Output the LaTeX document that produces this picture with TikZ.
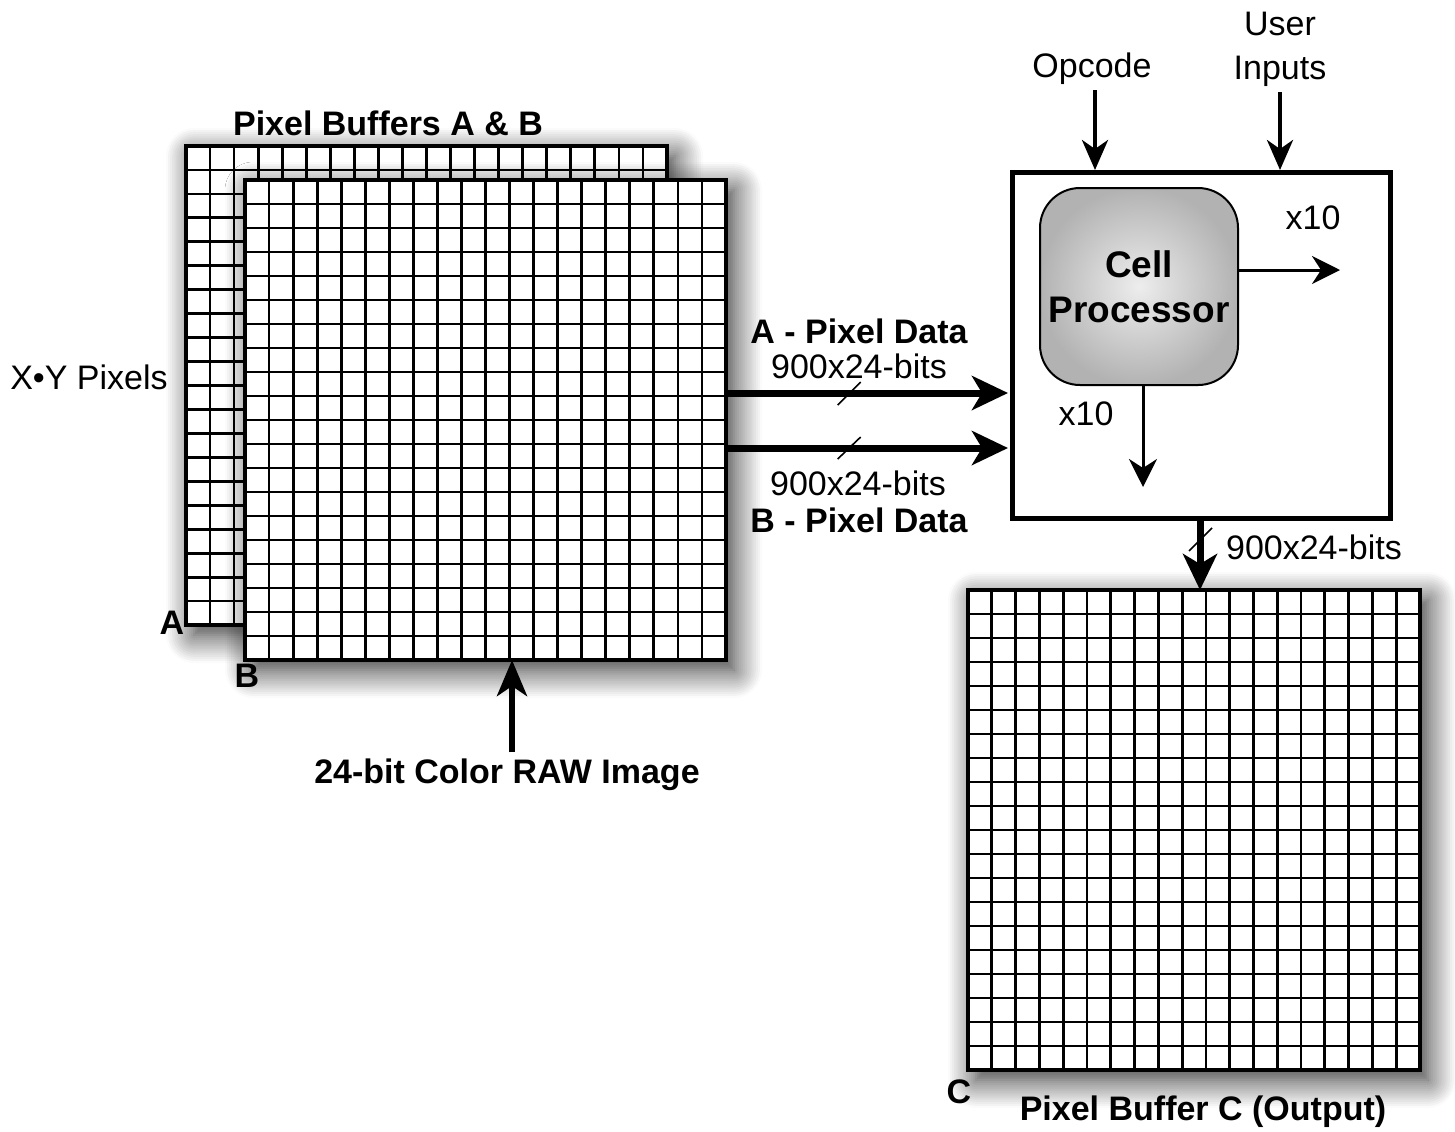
\documentclass[tikz,border=0pt]{standalone}
\usepackage{fontspec}
\setmainfont{Liberation Sans}
\usetikzlibrary{arrows.meta,calc,shadows.blur}

\tikzset{
  buffer/.style={draw, line width=1.6pt, fill=white, inner sep=0pt, outer sep=0pt, anchor=north west,
    blur shadow={shadow xshift=4pt, shadow yshift=-5pt, shadow blur radius=14pt, shadow blur steps=14, shadow opacity=85}},
  gridline/.style={line width=1.4pt},
  lbl/.style={font=\fontsize{17}{22}\selectfont, anchor=base, inner sep=0pt, outer sep=3pt},
  blbl/.style={lbl, font=\fontsize{17}{22}\selectfont\bfseries},
  busarrow/.style={line width=3.5pt, -{Stealth[length=18pt, width=17pt, inset=5pt]}},
  ctlarrow/.style={line width=2pt, -{Stealth[length=15pt, width=13pt, inset=4.5pt]}},
  cellarrow/.style={line width=1.5pt, -{Stealth[length=14pt, width=14pt, inset=4.5pt]}},
  rawarrow/.style={line width=3pt, -{Stealth[length=18pt, width=15pt, inset=5pt]}},
  slash/.style={line width=0.8pt}
}

% pixel grid inside a buffer node: #1 node, #2 columns, #3 rows
\newcommand{\pixelgrid}[3]{%
  \foreach \i in {1,...,#2}
    \draw[gridline] ($(#1.north west)!\i/#2!(#1.north east)$) -- ($(#1.south west)!\i/#2!(#1.south east)$);
  \foreach \j in {1,...,#3}
    \draw[gridline] ($(#1.north west)!\j/#3!(#1.south west)$) -- ($(#1.north east)!\j/#3!(#1.south east)$);
}

\begin{document}
\begin{tikzpicture}[x=0.5pt, y=-0.5pt]
  \useasboundingbox (0,0) rectangle (1455,1131);

  % Buffers
  \node[buffer, minimum width=240.5pt, minimum height=239.5pt] (bufA) at (186,146) {};
  \pixelgrid{bufA}{20}{20}
  \node[buffer, minimum width=240.5pt, minimum height=240pt] (bufB) at (245,180) {};
  \pixelgrid{bufB}{20}{20}
  \node[buffer, minimum width=226pt, minimum height=240pt] (bufC) at (968,590) {};
  \pixelgrid{bufC}{19}{20}

  % Processor
  \node[draw, line width=2.5pt, minimum width=189pt, minimum height=173pt, inner sep=0pt, anchor=north west] (procbox) at (1010,170) {};
  \node[draw, line width=1pt, rounded corners=20pt, minimum width=99pt, minimum height=98.5pt, inner sep=0pt,
    inner color=black!7, outer color=black!30, align=center,
    font=\fontsize{18.5}{22.5}\selectfont\bfseries] (cellproc) at (1139,286.5) {Cell\\Processor};

  % Labels
  \node[blbl] (titleAB) at (388,135) {Pixel Buffers A \& B};
  \node[lbl] (xy) at (89,389) {X•Y Pixels};
  \node[blbl] (labA) at (172,634) {A};
  \node[blbl] (labB) at (247,687) {B};
  \node[blbl] (labC) at (959,1103) {C};
  \node[lbl] (opcode) at (1092,77) {Opcode};
  \node[lbl, align=center, anchor=center] (user) at (1280,49) {User\\Inputs};
  \node[lbl] (x10r) at (1313,229) {x10};
  \node[lbl] (x10d) at (1086,425) {x10};
  \node[blbl] (adata) at (859,343) {A - Pixel Data};
  \node[lbl] (awidth) at (859,378) {900x24-bits};
  \node[lbl] (bwidth) at (858,495) {900x24-bits};
  \node[blbl] (bdata) at (859,532) {B - Pixel Data};
  \node[lbl] (cwidth) at (1314,559) {900x24-bits};
  \node[blbl] (raw) at (507,783) {24-bit Color RAW Image};
  \node[blbl] (titleC) at (1203,1120) {Pixel Buffer C (Output)};

  % Connectors
  \coordinate (aIn) at (1008,393);
  \coordinate (bIn) at (1008,448);
  \coordinate (outX) at (1200,0);
  \coordinate (rawX) at (512,0);
  \coordinate (cellOut) at (1340,270);
  \coordinate (cellDown) at (1143,487);

  \draw[busarrow] (aIn -| bufB.east) -- coordinate[pos=0.435] (aMid) (aIn);
  \draw[slash] ([shift={(-11,12)}]aMid) -- ([shift={(12,-11)}]aMid);
  \draw[busarrow] (bIn -| bufB.east) -- coordinate[pos=0.435] (bMid) (bIn);
  \draw[slash] ([shift={(-11,11)}]bMid) -- ([shift={(12,-11)}]bMid);

  \draw[busarrow] (procbox.south -| outX) -- coordinate[pos=0.26] (cMid) (bufC.north -| outX);
  \draw[slash] ([shift={(-11,12)}]cMid) -- ([shift={(12,-11)}]cMid);

  \draw[ctlarrow] (opcode.south) ++(3,0) coordinate (opTop) -- (opTop |- procbox.north);
  \draw[ctlarrow] (user.south) -- (user.south |- procbox.north);

  \draw[cellarrow] (cellOut -| cellproc.east) -- (cellOut);
  \draw[cellarrow] (cellDown |- cellproc.south) -- (cellDown);

  \draw[rawarrow] (raw.north -| rawX) -- (bufB.south -| rawX);
\end{tikzpicture}
\end{document}
